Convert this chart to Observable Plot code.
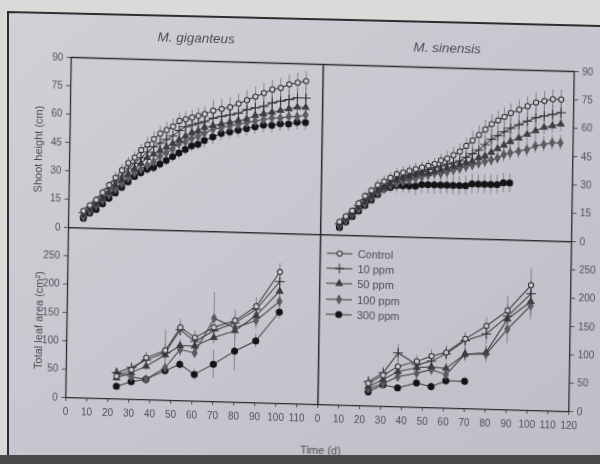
<!DOCTYPE html>
<html><head><meta charset="utf-8">
<script src="https://cdn.jsdelivr.net/npm/d3@7"></script>
<script src="https://cdn.jsdelivr.net/npm/@observablehq/plot@0.6"></script>
<style>
html,body{margin:0;padding:0;width:600px;height:464px;overflow:hidden;background:#dadad8;font-family:"Liberation Sans",Arial,sans-serif;}
#paper{position:absolute;left:0;top:0;}
#fig{position:absolute;left:0;top:0;width:600px;height:464px;transform:matrix(1,0.028,-0.016,1,0,0);transform-origin:320px 234px;filter:blur(0.45px);}
.panel{position:absolute;}
.panel svg{display:block;overflow:visible;max-width:none;}
.title{position:absolute;font-style:italic;font-size:13.5px;color:#4c4c54;transform:translate(-50%,-50%);white-space:nowrap;}
.ylab{position:absolute;font-size:11px;color:#4c4c54;transform:translate(-50%,-50%) rotate(-90deg);white-space:nowrap;}
.xlab{position:absolute;font-size:11px;color:#4c4c54;transform:translate(-50%,-50%);white-space:nowrap;}
#legend{position:absolute;left:327px;top:245px;font-size:11px;color:#4c4c54;}
#legend .row{display:flex;align-items:center;height:15.3px;white-space:nowrap;}
#legend svg{margin-right:5px;}
</style></head>
<body>
<svg id="paper" width="600" height="464">
  <defs><linearGradient id="g" x1="0" y1="0" x2="1" y2="1">
    <stop offset="0" stop-color="#d0d1d7"/><stop offset="1" stop-color="#bdbec6"/></linearGradient></defs>
  <polygon points="8,12 600,26 600,456 8,456" fill="url(#g)"/>
  <polyline points="8,456 8,12 600,26" fill="none" stroke="#2e2e30" stroke-width="2"/>
  <rect x="0" y="455" width="600" height="9" fill="#4a4a4c"/>
</svg>
<div id="fig">
  <div class="panel" id="tl" style="left:0;top:54px;"></div>
  <div class="panel" id="tr" style="left:310px;top:54px;"></div>
  <div class="panel" id="bl" style="left:0;top:224px;"></div>
  <div class="panel" id="br" style="left:310px;top:224px;"></div>
  <div class="title" style="left:193px;top:41px;">M. giganteus</div>
  <div class="title" style="left:444px;top:44px;">M. sinensis</div>
  <div class="ylab" style="left:37px;top:157px;">Shoot height (cm)</div>
  <div class="ylab" style="left:40px;top:328px;">Total leaf area (cm²)</div>
  <div class="xlab" style="left:324px;top:450px;">Time (d)</div>
  <div id="legend"></div>
</div>
<script>
// ---- series ----
const names = ["Control", "10 ppm", "50 ppm", "100 ppm", "300 ppm"];

// ---- shoot height, M. giganteus ----
const gigDays = [7,10,13,16,19,22,25,28,31,34,37,40,43,46,49,52,55,58,61,64,68,72,76,80,84,88,92,96,100,104,108,112];
const gigHeight = [
  [9,12,15,19,23,27,31,35,38,42,45,48,51,53,55,58,59,60,61,62,64,65,66,68,70,72,74,76,77,79,80,81],
  [8,11,14,17,21,25,28,32,35,38,41,44,46,48,50,53,55,56,57,58,60,61,62,63,65,66,67,69,70,71,72,72],
  [7,10,13,16,19,23,26,29,32,35,38,40,42,44,46,48,50,52,53,55,56,57,58,59,60,62,63,64,65,66,67,67],
  [6,9,12,15,18,21,24,27,30,32,34,36,39,41,43,46,47,49,50,52,54,55,56,57,58,59,60,61,61,62,62,63],
  [5,8,10,13,16,19,22,25,28,30,32,33,35,37,39,41,43,45,46,48,50,52,53,54,55,56,57,57,58,58,59,59]
];
const gigHeightErr = [
  [1,1,2,2,2,3,3,3,3,3,4,4,4,4,4,4,4,4,4,4,5,5,5,5,5,5,5,5,5,5,5,5],
  [1,1,1,2,2,2,3,3,3,3,3,4,4,4,4,4,4,4,4,4,4,4,4,5,5,5,5,5,5,5,5,5],
  [1,1,1,2,2,2,2,3,3,3,3,3,3,4,4,4,4,4,4,4,4,4,4,4,4,4,4,4,4,4,4,4],
  [1,1,1,1,2,2,2,2,3,3,3,3,3,3,3,3,4,4,4,4,4,4,4,4,4,4,4,4,4,4,4,4],
  [1,1,1,1,2,2,2,2,2,3,3,3,3,3,3,3,3,3,3,4,4,4,4,4,4,4,4,4,4,4,4,4]
];

// ---- shoot height, M. sinensis ----
const sinDays = [9,12,15,18,21,24,27,30,33,36,39,42,45,48,51,54,57,60,63,66,69,72,75,78,81,84,87,90,94,98,102,106,110,114];
const sinHeight = [
  [7,10,13,17,21,24,27,29,31,33,34,35,36,37,38,39,41,42,44,46,49,52,55,58,61,63,65,67,69,71,73,74,75,75],
  [6,9,12,16,19,22,25,27,29,31,32,33,34,35,36,37,38,39,40,41,43,45,47,50,53,55,57,59,61,63,65,66,67,68],
  [6,9,12,15,18,21,24,26,28,30,31,32,33,34,34,35,36,37,38,39,40,41,43,44,46,48,50,52,54,56,58,60,61,62],
  [5,8,11,14,17,20,23,25,27,28,29,30,31,32,33,34,34,35,36,37,38,39,40,41,42,43,45,46,47,48,50,51,52,52],
  [4,7,10,13,16,19,22,25,26,27,27,27,27,28,28,28,28,28,28,28,28,29,29,29,29,29,30,30]
];
const sinHeightErr = [
  [1,1,2,2,2,2,3,3,3,3,3,3,3,3,3,3,3,4,4,4,4,5,5,5,5,5,5,5,5,5,5,5,5,5],
  [1,1,1,2,2,2,2,3,3,3,3,3,3,3,3,3,3,3,3,4,4,4,4,4,5,5,5,5,5,5,5,5,5,5],
  [1,1,1,2,2,2,2,2,3,3,3,3,3,3,3,3,3,3,3,3,3,4,4,4,4,4,4,4,4,4,4,4,4,4],
  [1,1,1,1,2,2,2,2,2,3,3,3,3,3,3,3,3,3,3,3,3,3,3,3,3,3,4,4,4,4,4,4,4,4],
  [1,1,1,1,2,2,2,3,3,4,4,4,5,5,5,5,5,5,5,5,5,5,5,5,5,5,5,5]
];

// ---- total leaf area ----
const leafDays = [24,31,38,47,54,61,70,80,90,101];
const gigLeaf = [
  [40,52,74,88,129,112,131,144,170,232],
  [46,56,70,84,125,105,125,140,165,215],
  [37,47,59,80,97,97,113,126,154,198],
  [46,40,36,57,90,85,147,131,145,180],
  [22,31,36,52,64,47,66,90,109,161]
];
const gigLeafErr = [
  [8,8,10,12,15,12,15,18,15,15],
  [8,6,8,40,12,10,12,15,12,12],
  [6,6,8,10,10,8,10,12,12,12],
  [8,8,6,10,12,8,45,22,15,15],
  [5,5,6,8,8,10,25,35,12,12]
];
const sinLeaf = [
  [40,55,71,81,91,98,123,147,175,221],
  [43,59,95,75,82,96,120,133,165,206],
  [34,47,62,70,72,70,96,100,160,192],
  [30,40,53,60,67,59,96,97,142,185],
  [25,38,33,43,37,48,48]
];
const sinLeafErr = [
  [8,10,12,10,12,12,12,15,25,30],
  [8,10,15,12,12,12,12,18,20,25],
  [6,8,10,10,10,10,12,12,25,25],
  [6,8,8,10,10,12,12,15,25,25],
  [8,8,6,8,8,8,8]
];

// ---- axis ticks ----
const heightTicks = [0,15,30,45,60,75,90];
const leafTicks = [0,50,100,150,200,250];
const timeTicksLeft = [0,10,20,30,40,50,60,70,80,90,100,110];
const timeTicksRight = [0,10,20,30,40,50,60,70,80,90,100,110,120];

// ---- styles ----
const BG = "#c9cad1";
const symbols = ["circle", "plus", "triangle", "diamond", "circle"];
const fills = [BG, "none", "#3d3d42", "#5a5a60", "#141416"];
const strokes = ["#2e2e32", "#2e2e32", "#3d3d42", "#5a5a60", "#141416"];
const radii = [2.6, 3.2, 2.4, 2.6, 3];
const INK = "#505058";

function build(id, cfg) {
  const rows = [];
  cfg.vals.forEach((arr, i) => arr.forEach((v, j) =>
    rows.push({t: cfg.days[j], v, e: cfg.errs[i][j], s: i})));
  const marks = [
    Plot.ruleX(rows, {x: "t", y1: d => d.v - d.e, y2: d => d.v + d.e, stroke: "#7b7b84", strokeWidth: 0.9}),
    Plot.line(rows, {x: "t", y: "v", z: "s", stroke: "#3a3a3f", strokeWidth: 1})
  ];
  for (let i = names.length - 1; i >= 0; i--) {
    marks.push(Plot.dot(rows.filter(d => d.s === i), {
      x: "t", y: "v", symbol: symbols[i], r: radii[i],
      fill: fills[i], stroke: strokes[i], strokeWidth: 1
    }));
  }
  marks.push(Plot.frame({stroke: "#2c2c30", strokeWidth: 1.3}));
  const svg = Plot.plot({
    width: cfg.w, height: cfg.h,
    marginLeft: cfg.ml, marginRight: cfg.mr, marginTop: cfg.mt, marginBottom: cfg.mb,
    style: {background: "transparent", overflow: "visible", fontSize: "10px", color: INK,
            fontFamily: "Liberation Sans, Arial, sans-serif"},
    x: cfg.xTicks
      ? {domain: [0, 120], ticks: cfg.xTicks, tickSize: 4, tickPadding: 6, label: null}
      : {domain: [0, 120], axis: null},
    y: {domain: cfg.yDomain, ticks: cfg.yTicks, axis: cfg.yAnchor, tickSize: 4, tickPadding: 4, label: null},
    marks
  });
  document.getElementById(id).appendChild(svg);
}

build("tl", {days: gigDays, vals: gigHeight, errs: gigHeightErr, yDomain: [0, 90], yTicks: heightTicks,
  yAnchor: "left", w: 330, h: 190, ml: 68, mr: 10, mt: 10, mb: 10});
build("tr", {days: sinDays, vals: sinHeight, errs: sinHeightErr, yDomain: [0, 90], yTicks: heightTicks,
  yAnchor: "right", w: 300, h: 190, ml: 10, mr: 39, mt: 10, mb: 10});
build("bl", {days: leafDays, vals: gigLeaf, errs: gigLeafErr, yDomain: [0, 300], yTicks: leafTicks,
  yAnchor: "left", xTicks: timeTicksLeft, w: 330, h: 216, ml: 68, mr: 10, mt: 10, mb: 36});
build("br", {days: leafDays, vals: sinLeaf, errs: sinLeafErr, yDomain: [0, 300], yTicks: leafTicks,
  yAnchor: "right", xTicks: timeTicksRight, w: 300, h: 216, ml: 10, mr: 39, mt: 10, mb: 36});

// ---- legend ----
const legend = document.getElementById("legend");
const symbolTypes = {circle: d3.symbolCircle, plus: d3.symbolPlus, triangle: d3.symbolTriangle, diamond: d3.symbolDiamond};
names.forEach((n, i) => {
  const row = document.createElement("div");
  row.className = "row";
  const path = d3.symbol(symbolTypes[symbols[i]], Math.PI * radii[i] * radii[i])();
  row.innerHTML = `<svg width="26" height="12"><line x1="0" x2="26" y1="6" y2="6" stroke="#3a3a3f" stroke-width="1"/>` +
    `<path transform="translate(13,6)" d="${path}" fill="${fills[i]}" stroke="${strokes[i]}" stroke-width="1"/></svg><span>${n}</span>`;
  legend.appendChild(row);
});
</script>
</body></html>
